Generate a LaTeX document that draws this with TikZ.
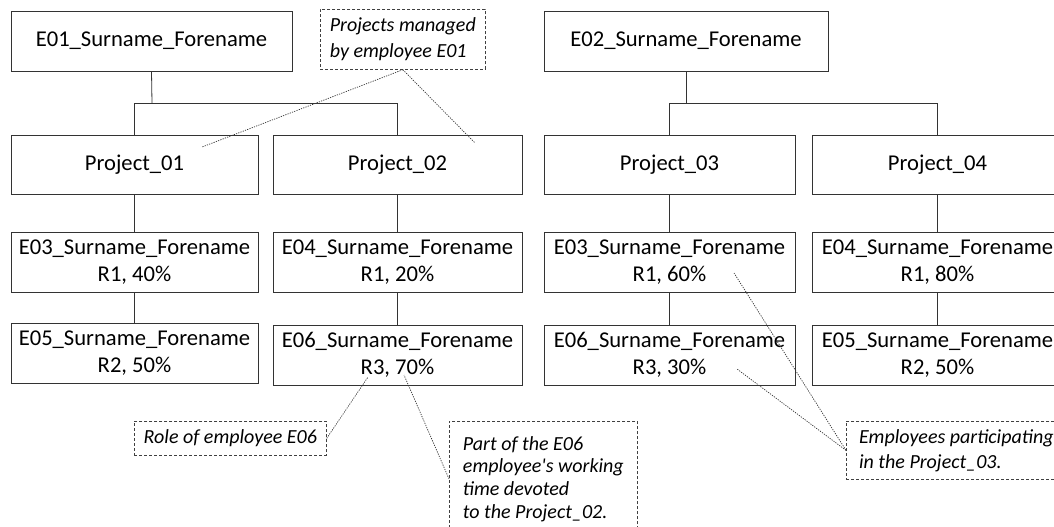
\documentclass[tikz,border=0pt]{standalone}
\usepackage{fontspec}
\setmainfont{Carlito}
\begin{document}
\begin{tikzpicture}[x=1pt,y=-1pt,
  box/.style={draw=black!80, line width=0.8pt, rectangle, inner sep=0pt, minimum height=60pt, align=center, font=\fontsize{22.6}{27}\selectfont},
  call/.style={draw=black!75, line width=0.7pt, dash pattern=on 3pt off 2pt, rectangle, inner xsep=7pt, align=left, anchor=north west, font=\fontsize{20}{25.5}\selectfont\itshape},
  link/.style={draw=black!80, line width=0.8pt},
  pointer/.style={draw=black!80, line width=0.7pt, dash pattern=on 1.2pt off 1.2pt}]
\useasboundingbox (0,0) rectangle (1054,527);
\clip (0,0) rectangle (1054,527);
% top-level employees
\node[box, minimum width=281pt] (e01) at (151.5,41) {E01\_Surname\_Forename};
\node[box, minimum width=284pt] (e02) at (686,41) {E02\_Surname\_Forename};
% projects
\node[box, minimum width=247pt, minimum height=59pt] (p1) at (134.5,164.5) {Project\_01};
\node[box, minimum width=249pt, minimum height=59pt] (p2) at (397.5,164.5) {Project\_02};
\node[box, minimum width=251pt, minimum height=59pt] (p3) at (669.5,164.5) {Project\_03};
\node[box, minimum width=251pt, minimum height=59pt] (p4) at (937.5,164.5) {Project\_04};
% members row 1
\node[box, minimum width=247pt] (a1) at (134.5,262) {E03\_Surname\_Forename\\R1, 40\%};
\node[box, minimum width=249pt] (a2) at (397.5,262) {E04\_Surname\_Forename\\R1, 20\%};
\node[box, minimum width=251pt] (a3) at (669.5,262) {E03\_Surname\_Forename\\R1, 60\%};
\node[box, minimum width=251pt] (a4) at (937.5,262) {E04\_Surname\_Forename\\R1, 80\%};
% members row 2
\node[box, minimum width=247pt] (b1) at (134.5,353) {E05\_Surname\_Forename\\R2, 50\%};
\node[box, minimum width=249pt] (b2) at (397.5,355) {E06\_Surname\_Forename\\R3, 70\%};
\node[box, minimum width=251pt] (b3) at (669.5,355) {E06\_Surname\_Forename\\R3, 30\%};
\node[box, minimum width=251pt] (b4) at (937.5,355) {E05\_Surname\_Forename\\R2, 50\%};
% hierarchy connectors
\coordinate (bus1) at (152,103);
\coordinate (bus2) at (686,103);
\draw[link] (e01.south) -- (bus1);
\draw[link] (p1.north) |- (bus1);
\draw[link] (p2.north) |- (bus1);
\draw[link] (e02.south) -- (bus2);
\draw[link] (p3.north) |- (bus2);
\draw[link] (p4.north) |- (bus2);
\draw[link] (p1) -- (a1); \draw[link] (a1) -- (b1);
\draw[link] (p2) -- (a2); \draw[link] (a2) -- (b2);
\draw[link] (p3) -- (a3); \draw[link] (a3) -- (b3);
\draw[link] (p4) -- (a4); \draw[link] (a4) -- (b4);
% callouts
\node[call, minimum width=165pt, minimum height=60pt, inner ysep=6pt] (c1) at (320,9) {Projects managed\\by employee E01};
\node[call, minimum width=192pt, minimum height=34pt, inner ysep=4pt] (c2) at (134,421) {Role of employee E06};
\node[call, minimum width=188pt, minimum height=115pt, inner ysep=8pt, font=\fontsize{20}{22.7}\selectfont\itshape] (c3) at (449,421) {Part of the E06\\employee\textquotesingle s working\\time devoted\\to the Project\_02.};
\node[call, minimum width=220pt, minimum height=58pt, inner ysep=5pt, font=\fontsize{20}{25}\selectfont\itshape] (c4) at (846,421) {Employees participating\\in the Project\_03.};
% pointer targets
\coordinate (t1) at (202,147);
\coordinate (t2) at (475,143);
\coordinate (t3) at (368,377);
\coordinate (t4) at (404,375);
\coordinate (t5) at (734,273);
\coordinate (t6) at (737,369);
\draw[pointer] (c1.south) -- (t1);
\draw[pointer] (c1.south) -- (t2);
\draw[pointer] (c2.east) -- (t3);
\draw[pointer] (c3.west) -- (t4);
\draw[pointer] (c4.west) -- (t5);
\draw[pointer] (c4.west) -- (t6);
\end{tikzpicture}
\end{document}
